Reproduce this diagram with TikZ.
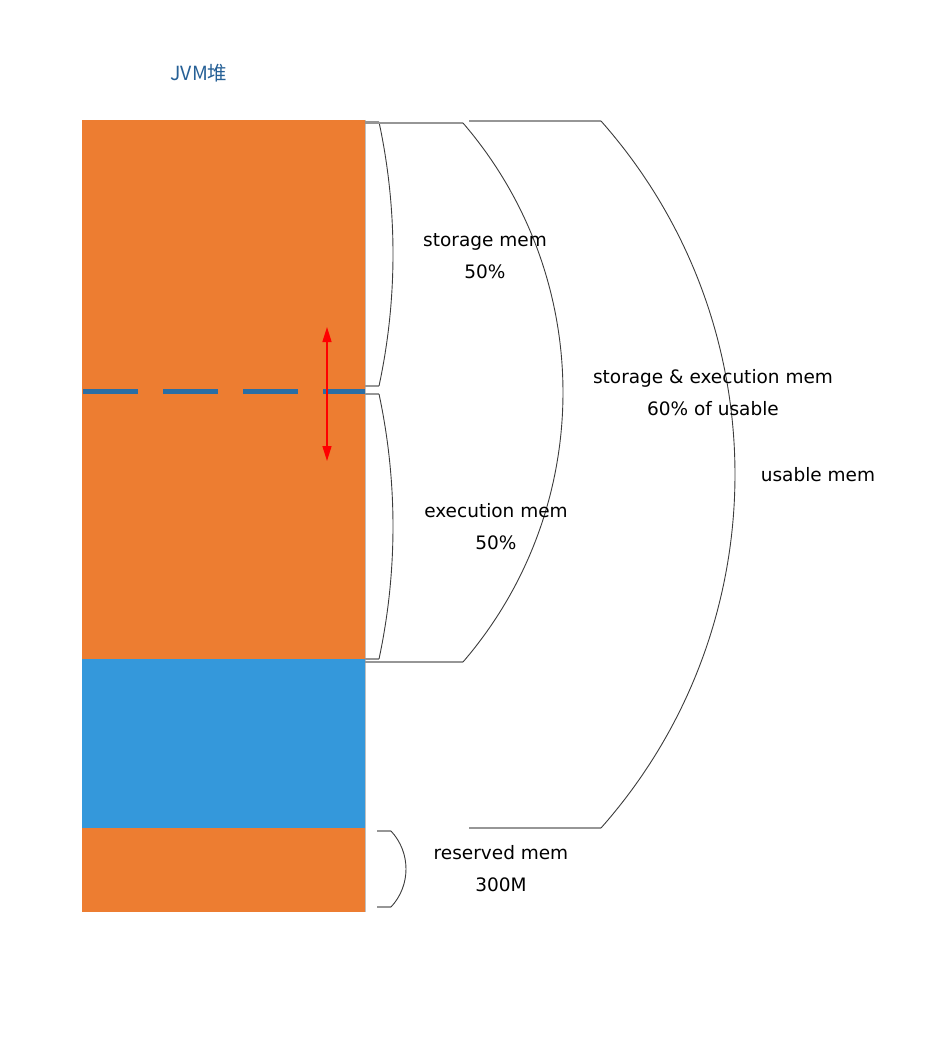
\documentclass[tikz,border=0pt]{standalone}
\usepackage{fontspec}
\setmainfont{DejaVu Sans}
\newfontfamily\cjkfont{Noto Sans CJK SC}
\usetikzlibrary{arrows.meta}
\definecolor{heaporange}{RGB}{237,125,49}
\definecolor{heapblue}{RGB}{52,152,219}
\definecolor{dashblue}{RGB}{42,110,165}
\definecolor{titleblue}{RGB}{38,96,150}
\definecolor{hline}{RGB}{150,150,150}
\definecolor{cline}{RGB}{60,60,60}
\tikzset{
  block/.style={draw=hline!60, line width=0.5pt},
  hseg/.style={draw=hline, line width=1.5pt},
  curveline/.style={draw=cline, line width=0.9pt},
  label/.style={align=center, font=\fontsize{18.5}{32}\selectfont},
}
\newcommand{\membracket}[4]{% x, ytop, ybot, sagitta
  \pgfmathsetmacro{\bkc}{#3-#2}
  \pgfmathsetmacro{\bkR}{(\bkc/8)*(\bkc/#4)+#4/2}
  \pgfmathsetmacro{\bkT}{asin(\bkc/(2*\bkR))}
  \pgfmathsetmacro{\bkL}{4/3*tan(\bkT/2)*\bkR}
  \pgfmathsetmacro{\bkX}{#1+\bkL*sin(\bkT)}
  \pgfmathsetmacro{\bkY}{#2+\bkL*cos(\bkT)}
  \pgfmathsetmacro{\bkZ}{#3-\bkL*cos(\bkT)}
  \draw[curveline] (#1,#2) .. controls (\bkX,\bkY) and (\bkX,\bkZ) .. (#1,#3);
}
\begin{document}
\begin{tikzpicture}[x=1pt,y=-1pt]
\useasboundingbox (0,0) rectangle (932,1054);
% heap blocks
\fill[heaporange] (82,120) rectangle (365,659);
\fill[heapblue] (82,659) rectangle (365,828);
\fill[heaporange] (82,828) rectangle (365,912);
\draw[block] (365,120) -- (365,912);
% movable boundary
\draw[dashblue, line width=5pt, dash pattern=on 55pt off 25pt] (83,391) -- (365,391);
\coordinate (up) at (327,327);
\coordinate (dn) at (327,461);
\draw[red, line width=1.5pt, {Triangle[width=9pt,length=15pt]}-{Triangle[width=9pt,length=15pt]}] (up) -- (dn);
% storage bracket
\draw[hseg] (365,122) -- (379,122);
\draw[hseg] (365,386) -- (379,386);
\membracket{379}{122}{386}{14}
% execution bracket
\draw[hseg] (365,394) -- (379,394);
\draw[hseg] (365,659) -- (379,659);
\membracket{379}{394}{659}{14}
% storage & execution bracket
\draw[hseg] (365,123) -- (463,123);
\draw[hseg] (365,662) -- (463,662);
\membracket{463}{123}{662}{100}
% usable bracket
\draw[hseg] (469,121) -- (601,121);
\draw[hseg] (469,828) -- (601,828);
\membracket{601}{121}{828}{134}
% reserved bracket
\draw[hseg] (377,831) -- (391,831);
\draw[hseg] (377,907) -- (391,907);
\membracket{391}{831}{907}{15}
% labels
\node[font=\fontsize{19.5}{22}\selectfont\cjkfont, text=titleblue] (title) at (199,73) {JVM堆};
\node[label] (storage) at (485,256) {storage mem\\50\%};
\node[label] (execution) at (496,527) {execution mem\\50\%};
\node[label] (se) at (713,393) {storage \& execution mem\\60\% of usable};
\node[label, anchor=base] (usable) at (818,481) {usable mem};
\node[label] (reserved) at (501,869) {reserved mem\\300M};
\end{tikzpicture}
\end{document}
